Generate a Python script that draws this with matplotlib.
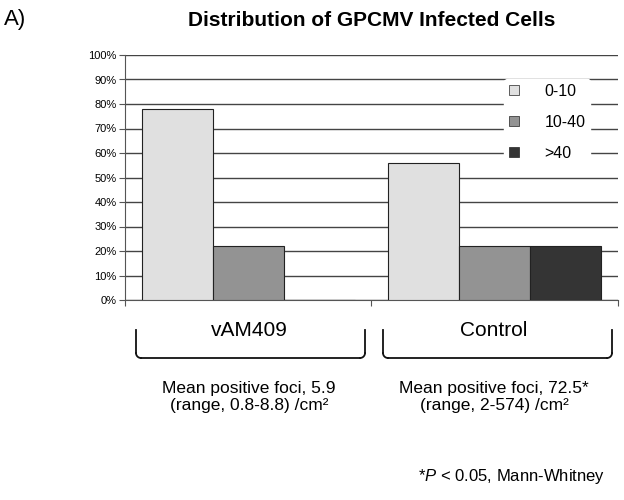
import numpy as np
import matplotlib.pyplot as plt
from matplotlib.ticker import PercentFormatter

plt.rcParams['font.family'] = ['Liberation Sans', 'DejaVu Sans']
plt.rcParams['mathtext.fontset'] = 'custom'
plt.rcParams['mathtext.it'] = 'Liberation Sans:italic'
plt.rcParams['mathtext.rm'] = 'Liberation Sans'

groups = ['vAM409', 'Control']
ranges = ['0-10', '10-40', '>40']
values = {
    '0-10': [78, 56],
    '10-40': [22, 22],
    '>40': [0, 22],
}
colors = ['#e0e0e0', '#939393', '#343434']
notes = ['Mean positive foci, 5.9\n(range, 0.8-8.8) /cm²',
         'Mean positive foci, 72.5*\n(range, 2-574) /cm²']

fig = plt.figure(figsize=(6.24, 5.0), dpi=100)
ax = fig.add_axes([0.2003, 0.40, 0.7897, 0.49])

x = np.arange(len(groups))
w = 0.288
for i, r in enumerate(ranges):
    ax.bar(x + (i - 1) * w, values[r], w, color=colors[i], edgecolor='#222222',
           linewidth=0.8, label=r, zorder=3)

ax.set_xlim(-0.5, 1.5)
ax.set_ylim(0, 100)
ax.set_yticks(np.arange(0, 101, 10))
ax.yaxis.set_major_formatter(PercentFormatter(decimals=0))
ax.tick_params(axis='y', labelsize=8, length=4, width=0.8, color='#555555', pad=2)
ax.set_xticks([-0.5, 0.5, 1.5])
ax.set_xticklabels([])
ax.tick_params(axis='x', length=4, width=0.8, color='#555555', direction='out')
ax.grid(axis='y', color='#444444', linewidth=1.0, zorder=0)
for s in ['top', 'right']:
    ax.spines[s].set_visible(False)
ax.spines['left'].set_color('#555555')
ax.spines['bottom'].set_color('#555555')

leg = ax.legend(loc='upper right', bbox_to_anchor=(0.96, 0.935), frameon=True,
                fontsize=11.5, handlelength=0.6, handleheight=0.6,
                labelspacing=1.0, handletextpad=1.6, borderpad=0.3)
leg.get_frame().set_edgecolor('white')
leg.get_frame().set_facecolor('white')
leg.get_frame().set_alpha(1)
for h in leg.legend_handles:
    h.set_linewidth(0.5)

# overlay in pixel coordinates for brackets and annotations
ov = fig.add_axes([0, 0, 1, 1], facecolor='none')
ov.set_xlim(0, 624)
ov.set_ylim(500, 0)
ov.axis('off')


def bracket(x0, x1, ytop, ybot, r=5):
    t = np.linspace(0, np.pi / 2, 20)
    kw = dict(color='#111111', lw=1.3)
    ov.plot([x0, x0], [ytop, ybot - r], **kw)
    ov.plot(x0 + r - r * np.cos(t), ybot - r + r * np.sin(t), **kw)
    ov.plot([x0 + r, x1 - r], [ybot, ybot], **kw)
    ov.plot(x1 - r + r * np.sin(t), ybot - r + r * np.cos(t), **kw)
    ov.plot([x1, x1], [ybot - r, ytop], **kw)


bracket(136, 365, 330, 358)
bracket(383, 612, 330, 358)

ov.text(249, 330, groups[0], ha='center', va='center', fontsize=15)
ov.text(494, 330, groups[1], ha='center', va='center', fontsize=15)
ov.text(249, 397, notes[0], ha='center', va='center', fontsize=12.5, linespacing=1.1)
ov.text(494, 397, notes[1], ha='center', va='center', fontsize=12.5, linespacing=1.1)

ov.text(372, 20, 'Distribution of GPCMV Infected Cells', ha='center', va='center',
        fontsize=15, fontweight='bold')
ov.text(4, 20, 'A)', ha='left', va='center', fontsize=16)
ov.text(605, 476, r'*$\mathit{P}$ < 0.05, Mann-Whitney', ha='right', va='center',
        fontsize=12)

fig.savefig('out.png', dpi=100)
